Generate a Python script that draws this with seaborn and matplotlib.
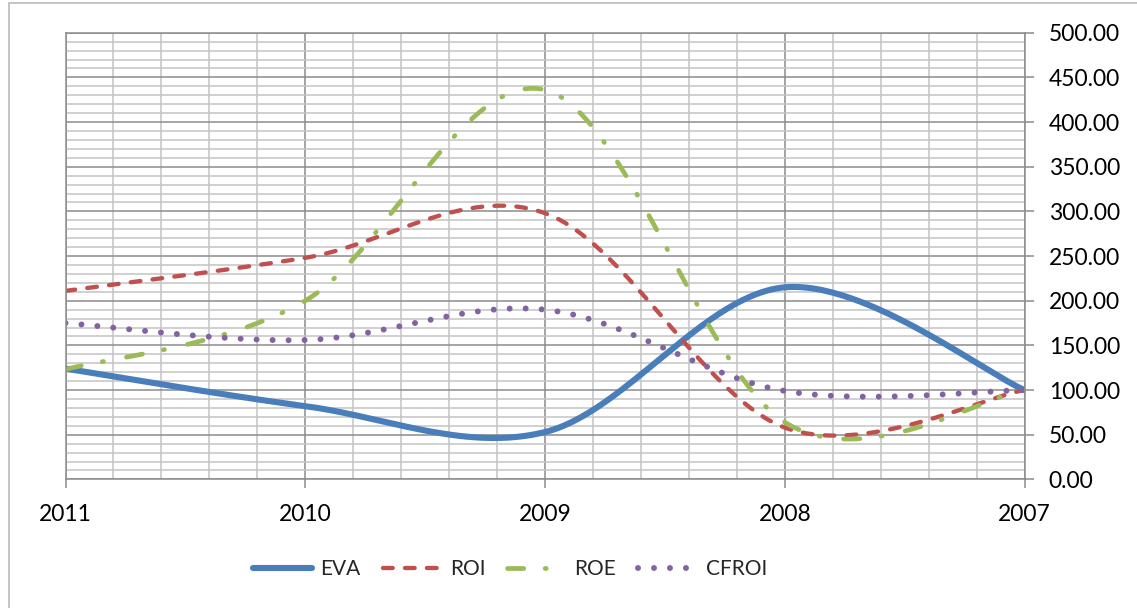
import numpy as np
import pandas as pd
import matplotlib
matplotlib.use("Agg")
import matplotlib.pyplot as plt
from matplotlib.patches import Rectangle
from matplotlib.ticker import MultipleLocator, FuncFormatter
import seaborn as sns

# ---- data ----
years = ["2011", "2010", "2009", "2008", "2007"]
eva = [124, 82, 53, 215, 100]
roi = [211, 248, 298, 58, 100]
roe = [123, 200, 436, 64, 100]
cfroi = [175, 156, 190, 99, 100]
series_names = ["EVA", "ROI", "ROE", "CFROI"]
y_ticks = [0, 50, 100, 150, 200, 250, 300, 350, 400, 450, 500]

sns.set_style("white")
plt.rcParams["font.family"] = ["Lato", "DejaVu Sans"]
plt.rcParams["lines.scale_dashes"] = False

W, H = 1137, 608
fig = plt.figure(figsize=(W / 100, H / 100), dpi=100)
ax = fig.add_axes([65.5 / W, 1 - 479.4 / H, (1024.5 - 65.5) / W, (479.4 - 32.7) / H])


def smooth(vals, n=60):
    """Excel-style smoothed line: cubic Bezier through the points."""
    P = np.column_stack([np.arange(len(vals), dtype=float), np.asarray(vals, float)])
    ext = np.vstack([P[0], P, P[-1]])
    t = np.linspace(0, 1, n)[:, None]
    out = []
    for i in range(len(P) - 1):
        p0, p3 = P[i], P[i + 1]
        c1 = p0 + (ext[i + 2] - ext[i]) / 6.0
        c2 = p3 - (ext[i + 3] - ext[i + 1]) / 6.0
        seg = ((1 - t) ** 3) * p0 + 3 * ((1 - t) ** 2) * t * c1 + 3 * (1 - t) * t ** 2 * c2 + t ** 3 * p3
        out.append(seg if i == 0 else seg[1:])
    return np.vstack(out)


styles = {
    "EVA": dict(color="#4A7EBB", linewidth=4.4, linestyle="-", solid_capstyle="round"),
    "ROI": dict(color="#C0504D", linewidth=3.1, linestyle=(0, (7.0, 8.8)), dash_capstyle="round"),
    "ROE": dict(color="#9BBB59", linewidth=3.4, linestyle=(0, (11.7, 15.4, 0.8, 16.9)), dash_capstyle="round"),
    "CFROI": dict(color="#8064A2", linewidth=4.3, linestyle=(0, (0.01, 11.5)), dash_capstyle="round"),
}

data = {"EVA": eva, "ROI": roi, "ROE": roe, "CFROI": cfroi}
for name in series_names:
    curve = smooth(data[name])
    df = pd.DataFrame({"x": curve[:, 0], "y": curve[:, 1]})
    sns.lineplot(data=df, x="x", y="y", ax=ax, estimator=None, sort=False,
                 label=name, **styles[name])

handles, labels = ax.get_legend_handles_labels()
if ax.get_legend() is not None:
    ax.get_legend().remove()

ax.set_xlim(0, len(years) - 1)
ax.set_ylim(0, 500)
ax.set_xticks(range(len(years)))
ax.set_xticklabels(years)
ax.xaxis.set_minor_locator(MultipleLocator(0.2))
ax.set_yticks(y_ticks)
ax.yaxis.set_minor_locator(MultipleLocator(10))
ax.yaxis.set_major_formatter(FuncFormatter(lambda v, p: f"{v:.2f}"))
ax.yaxis.tick_right()
ax.set_xlabel("")
ax.set_ylabel("")

ax.grid(which="minor", color="#C4C4C4", linewidth=1.1)
ax.grid(which="major", color="#8C8C8C", linewidth=1.1)
ax.set_axisbelow(True)
for s in ax.spines.values():
    s.set_color("#8C8C8C")
    s.set_linewidth(1.1)

ax.tick_params(which="minor", length=0)
ax.tick_params(axis="y", which="major", length=6.5, width=1.1, color="#8C8C8C",
               pad=11, labelsize=16.5, labelcolor="black", right=True, left=False)
ax.tick_params(axis="x", which="major", length=6.5, width=1.1, color="#8C8C8C",
               pad=11, labelsize=16.5, labelcolor="black", bottom=True)

fig.legend(handles, labels, loc="center", bbox_to_anchor=(510 / W, 1 - 569 / H),
           ncol=4, frameon=False, fontsize=15, handlelength=2.83,
           handletextpad=0.4, columnspacing=1.05)

fig.patches.append(Rectangle((8.5 / W, -0.02), 1.1, 1.02 - 3.5 / H, transform=fig.transFigure,
                             fill=False, edgecolor="#BFBFBF", linewidth=1.3))

fig.savefig("out.png", dpi=100)
